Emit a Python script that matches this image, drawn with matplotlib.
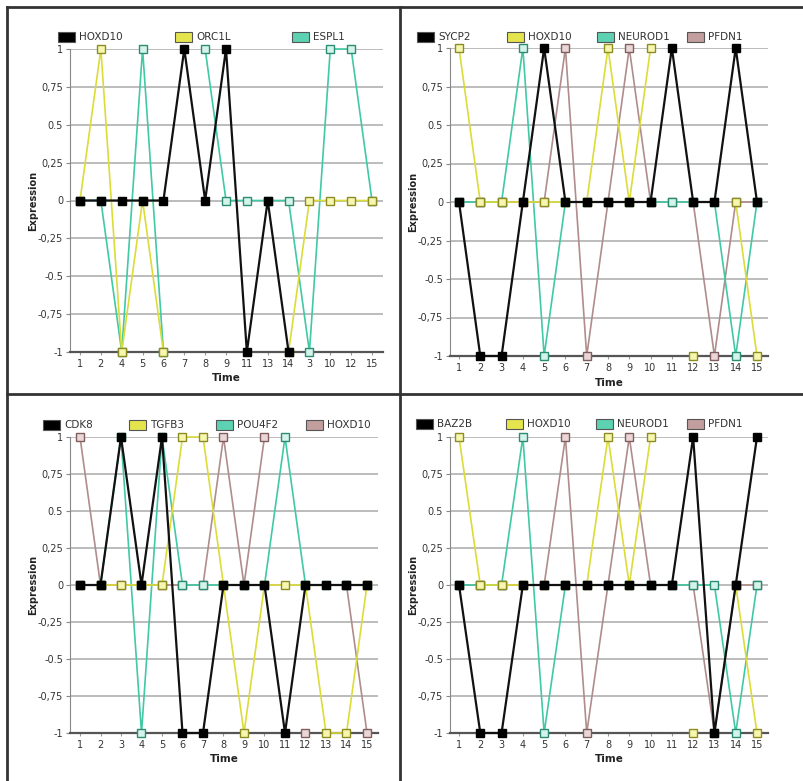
import numpy as np
import matplotlib
matplotlib.use('Agg')
import matplotlib.pyplot as plt
from matplotlib.patches import Rectangle

nan = np.nan

# top-left panel (time points in their original order)
times_a = ['1', '2', '4', '5', '6', '7', '8', '9', '11', '13', '14', '3', '10', '12', '15']
genes_a = ['HOXD10', 'ORC1L', 'ESPL1']
hoxd10_a = [0, 0, 0, 0, 0, 1, 0, 1, -1, 0, -1, nan, nan, nan, nan]
orc1l_a = [0, 1, -1, 0, -1, nan, nan, nan, nan, nan, -1, 0, 0, 0, 0]
espl1_a = [0, 0, -1, 1, -1, nan, 1, 0, 0, 0, 0, -1, 1, 1, 0]

# top-right panel
times_b = [str(t) for t in range(1, 16)]
genes_b = ['SYCP2', 'HOXD10', 'NEUROD1', 'PFDN1']
sycp2_b = [0, -1, -1, 0, 1, 0, 0, 0, 0, 0, 1, 0, 0, 1, 0]
hoxd10_b = [1, 0, 0, 0, 0, 0, 0, 1, 0, 1, nan, -1, nan, 0, -1]
neurod1_b = [0, 0, 0, 1, -1, 0, 0, 0, 0, 0, 0, 0, 0, -1, 0]
pfdn1_b = [0, 0, 0, 0, 0, 1, -1, 0, 1, 0, 0, 0, -1, 0, 0]

# bottom-left panel
times_c = [str(t) for t in range(1, 16)]
genes_c = ['CDK8', 'TGFB3', 'POU4F2', 'HOXD10']
cdk8_c = [0, 0, 1, 0, 1, -1, -1, 0, 0, 0, -1, 0, 0, 0, 0]
tgfb3_c = [0, 0, 0, 0, 0, 1, 1, 0, -1, 0, 0, 0, -1, -1, 0]
pou4f2_c = [0, 0, 1, -1, 1, 0, 0, 0, 0, 0, 1, 0, 0, 0, 0]
hoxd10_c = [1, 0, 0, 0, 0, 0, 0, 1, 0, 1, nan, -1, nan, 0, -1]

# bottom-right panel
times_d = [str(t) for t in range(1, 16)]
genes_d = ['BAZ2B', 'HOXD10', 'NEUROD1', 'PFDN1']
baz2b_d = [0, -1, -1, 0, 0, 0, 0, 0, 0, 0, 0, 1, -1, 0, 1]
hoxd10_d = [1, 0, 0, 0, 0, 0, 0, 1, 0, 1, nan, -1, nan, 0, -1]
neurod1_d = [0, 0, 0, 1, -1, 0, 0, 0, 0, 0, 0, 0, 0, -1, 0]
pfdn1_d = [0, 0, 0, 0, 0, 1, -1, 0, 1, 0, 0, 0, -1, 0, 0]

yticks = [-1, -0.75, -0.5, -0.25, 0, 0.25, 0.5, 0.75, 1]
ytick_labels = ['-1', '-0,75', '-0.5', '-0,25', '0', '0,25', '0.5', '0,75', '1']

# (line colour, marker edge, marker face, legend swatch)
styles = {
    'black': ('#111111', '#000000', '#000000', '#000000'),
    'yellow': ('#dcdc38', '#8c8c22', '#f6f6b0', '#e4e44c'),
    'teal': ('#40c9a4', '#2b8c74', '#d4f4ea', '#5cd2b2'),
    'mauve': ('#b08c8c', '#7e5e5e', '#ead6d6', '#c29e9e'),
}
order = ['black', 'yellow', 'teal', 'mauve']

W, H = 804, 781
fig = plt.figure(figsize=(W / 100, H / 100), dpi=100)


def px_axes(left, right, top, bottom):
    return fig.add_axes([left / W, 1 - bottom / H, (right - left) / W, (bottom - top) / H])


def draw_panel(box, times, genes, series, legend_xs, legend_y, time_y):
    left, right, top, bottom, tick0, tick_last = box
    ax = px_axes(left, right, top, bottom)
    step = (tick_last - tick0) / (len(times) - 1)
    x = np.arange(len(times))
    for i, (vals, key) in enumerate(zip(series, order)):
        lc, me, mf, _ = styles[key]
        lw = 1.6 if key == 'black' else 1.2
        ax.plot(x, vals, color=lc, lw=lw, marker='s', ms=5.4, mec=me, mfc=mf,
                mew=1.0, zorder=10 - i, clip_on=False)
    ax.set_xlim(-(tick0 - left) / step, len(times) - 1 + (right - tick_last) / step)
    ax.set_ylim(-1, 1)
    ax.set_xticks(x)
    ax.set_xticklabels(times)
    ax.set_yticks(yticks)
    ax.set_yticklabels(ytick_labels)
    ax.grid(axis='y', color='#b0b0b0', lw=1.2, zorder=0)
    ax.set_axisbelow(True)
    for s in ['top', 'right']:
        ax.spines[s].set_visible(False)
    ax.spines['bottom'].set_color('#555555')
    ax.spines['bottom'].set_linewidth(1.6)
    ax.spines['left'].set_color('#888888')
    ax.tick_params(axis='x', length=2, color='#999999', labelsize=7, labelcolor='#333333', pad=3)
    ax.tick_params(axis='y', length=3, color='#888888', labelsize=7, labelcolor='#333333', pad=2)
    ax.set_ylabel('Expression', fontsize=7, fontweight='bold', color='#222222')
    ax.yaxis.set_label_coords(-32 / (right - left), 0.5)
    fig.text((left + right) / 2 / W, 1 - time_y / H, 'Time', fontsize=7.5,
             fontweight='bold', color='#222222', ha='center', va='center')
    # legend row with evenly spaced entries
    for gx, name, key in zip(legend_xs, genes, order):
        fig.patches.append(Rectangle((gx / W, 1 - (legend_y + 5) / H), 17 / W, 10 / H,
                                     transform=fig.transFigure, facecolor=styles[key][3],
                                     edgecolor='#555555', lw=0.8))
        fig.text((gx + 21) / W, 1 - legend_y / H, name, fontsize=7.5, color='#333333',
                 ha='left', va='center')
    return ax


draw_panel((70, 383, 49, 352, 80, 372), times_a, genes_a,
           [hoxd10_a, orc1l_a, espl1_a], [58, 175, 292], 37, 378)
draw_panel((450, 768, 48, 356, 459, 757), times_b, genes_b,
           [sycp2_b, hoxd10_b, neurod1_b, pfdn1_b], [417, 507, 597, 687], 37, 383)
draw_panel((70, 378, 437, 733, 80, 367), times_c, genes_c,
           [cdk8_c, tgfb3_c, pou4f2_c, hoxd10_c], [43, 129, 216, 306], 425, 759)
draw_panel((450, 768, 437, 733, 459, 757), times_d, genes_d,
           [baz2b_d, hoxd10_d, neurod1_d, pfdn1_d], [416, 506, 596, 687], 424, 759)

# table frame around the four panels
frame = dict(color='#333333', lw=2, transform=fig.transFigure)
fig.lines.append(plt.Line2D([7 / W, 7 / W], [0, 1 - 7 / H], **frame))
fig.lines.append(plt.Line2D([7 / W, 1], [1 - 7 / H, 1 - 7 / H], **frame))
fig.lines.append(plt.Line2D([400 / W, 400 / W], [0, 1 - 7 / H], **frame))
fig.lines.append(plt.Line2D([7 / W, 1], [1 - 394 / H, 1 - 394 / H], **frame))

fig.savefig('out.png', dpi=100)
